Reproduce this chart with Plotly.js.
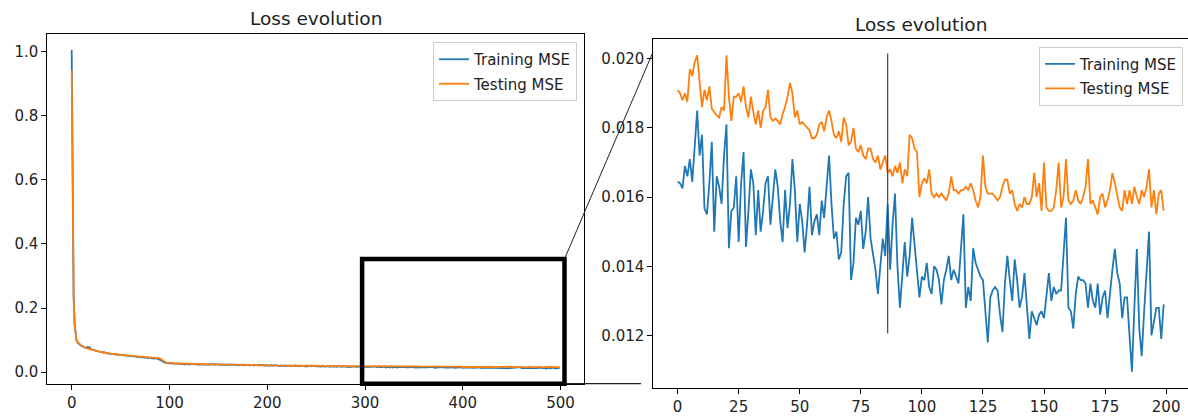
<!DOCTYPE html>
<html>
<head>
<meta charset="utf-8">
<script src="https://cdn.plot.ly/plotly-3.0.1.min.js"></script>
<style>html,body{margin:0;padding:0;background:#fff;}#chart{width:1188px;height:416px;}</style>
</head>
<body>
<div id="chart"></div>
<script>
// ---- Data ----
// Epochs 0-299 (left plot only)
const trainEarly = [
1.005,0.430,0.235,0.150,0.112,0.098,0.093,0.089,0.087,0.084,
0.082,0.080,0.079,0.077,0.076,0.075,0.078,0.073,0.080,0.072,
0.071,0.070,0.069,0.070,0.067,0.066,0.067,0.065,0.064,0.063,
0.063,0.062,0.061,0.062,0.060,0.060,0.059,0.060,0.058,0.058,
0.057,0.058,0.056,0.057,0.056,0.055,0.056,0.055,0.054,0.055,
0.054,0.053,0.054,0.053,0.052,0.053,0.052,0.051,0.052,0.051,
0.050,0.051,0.050,0.049,0.050,0.049,0.048,0.049,0.048,0.047,
0.048,0.047,0.046,0.047,0.046,0.045,0.046,0.045,0.044,0.045,
0.044,0.045,0.043,0.044,0.043,0.042,0.044,0.043,0.042,0.041,
0.040,0.039,0.036,0.033,0.031,0.030,0.029,0.029,0.028,0.028,
0.028,0.027,0.028,0.027,0.026,0.027,0.026,0.027,0.026,0.025,
0.026,0.027,0.025,0.026,0.025,0.026,0.024,0.026,0.025,0.026,
0.025,0.024,0.026,0.025,0.024,0.025,0.026,0.024,0.025,0.024,
0.025,0.023,0.025,0.024,0.025,0.024,0.023,0.025,0.024,0.024,
0.023,0.025,0.024,0.023,0.024,0.025,0.023,0.024,0.023,0.024,
0.024,0.023,0.024,0.022,0.024,0.023,0.024,0.023,0.022,0.024,
0.023,0.022,0.024,0.023,0.022,0.023,0.024,0.022,0.023,0.022,
0.023,0.022,0.023,0.022,0.024,0.022,0.023,0.021,0.023,0.022,
0.022,0.023,0.021,0.022,0.023,0.022,0.021,0.023,0.022,0.021,
0.022,0.021,0.023,0.022,0.021,0.022,0.021,0.022,0.020,0.022,
0.021,0.022,0.020,0.021,0.022,0.020,0.021,0.020,0.022,0.021,
0.020,0.021,0.020,0.019,0.021,0.020,0.021,0.019,0.020,0.021,
0.020,0.019,0.020,0.021,0.019,0.020,0.019,0.020,0.019,0.021,
0.019,0.020,0.019,0.018,0.020,0.019,0.020,0.019,0.018,0.019,
0.020,0.019,0.018,0.019,0.020,0.018,0.019,0.018,0.019,0.020,
0.018,0.019,0.018,0.019,0.018,0.017,0.019,0.018,0.019,0.018,
0.017,0.018,0.019,0.018,0.017,0.018,0.019,0.017,0.018,0.017,
0.018,0.017,0.018,0.019,0.017,0.018,0.017,0.018,0.017,0.018,
0.017,0.018,0.016,0.017,0.018,0.017,0.016,0.018,0.017,0.016,
0.017,0.018,0.016,0.017,0.016,0.017,0.018,0.016,0.017,0.016
];
const testEarly = [
0.940,0.410,0.225,0.145,0.110,0.099,0.094,0.090,0.087,0.085,
0.083,0.081,0.079,0.078,0.077,0.075,0.074,0.073,0.072,0.071,
0.070,0.069,0.068,0.068,0.067,0.066,0.065,0.065,0.064,0.063,
0.063,0.062,0.062,0.061,0.060,0.060,0.059,0.059,0.058,0.058,
0.058,0.057,0.057,0.056,0.056,0.056,0.055,0.055,0.055,0.054,
0.054,0.054,0.053,0.053,0.053,0.052,0.052,0.052,0.051,0.051,
0.051,0.051,0.050,0.050,0.050,0.050,0.049,0.049,0.049,0.049,
0.048,0.048,0.048,0.048,0.047,0.047,0.047,0.047,0.047,0.046,
0.046,0.046,0.046,0.046,0.046,0.045,0.045,0.045,0.045,0.044,
0.043,0.041,0.038,0.035,0.033,0.032,0.031,0.030,0.030,0.029,
0.029,0.029,0.028,0.028,0.028,0.028,0.027,0.028,0.027,0.027,
0.027,0.027,0.027,0.026,0.027,0.026,0.026,0.027,0.026,0.026,
0.026,0.026,0.026,0.025,0.026,0.026,0.025,0.025,0.026,0.025,
0.025,0.025,0.025,0.026,0.025,0.025,0.025,0.024,0.025,0.025,
0.025,0.024,0.025,0.024,0.024,0.025,0.024,0.024,0.024,0.024,
0.024,0.024,0.024,0.023,0.024,0.024,0.023,0.024,0.023,0.023,
0.024,0.023,0.023,0.023,0.024,0.023,0.023,0.023,0.022,0.023,
0.023,0.023,0.022,0.023,0.023,0.022,0.023,0.022,0.022,0.023,
0.022,0.022,0.023,0.022,0.022,0.022,0.022,0.023,0.022,0.022,
0.022,0.021,0.022,0.022,0.022,0.021,0.022,0.022,0.021,0.022,
0.022,0.021,0.021,0.022,0.021,0.021,0.021,0.022,0.021,0.021,
0.021,0.021,0.020,0.021,0.021,0.021,0.020,0.021,0.021,0.020,
0.021,0.020,0.021,0.020,0.020,0.021,0.020,0.020,0.021,0.020,
0.020,0.020,0.021,0.020,0.020,0.020,0.019,0.020,0.020,0.020,
0.020,0.019,0.020,0.020,0.019,0.020,0.020,0.019,0.020,0.019,
0.020,0.019,0.019,0.020,0.019,0.019,0.020,0.019,0.019,0.019,
0.019,0.020,0.019,0.019,0.019,0.019,0.020,0.019,0.019,0.019,
0.019,0.019,0.019,0.020,0.019,0.019,0.019,0.019,0.019,0.020,
0.019,0.019,0.019,0.019,0.019,0.020,0.019,0.019,0.019,0.019,
0.019,0.019,0.020,0.019,0.019,0.019,0.019,0.020,0.019,0.019
];
// Epochs 300-499 (shown in the zoomed right plot as 0-199)
const trainZoom = [
0.01644,0.0164,0.01625,0.0169,0.0166,0.0171,0.01644,0.0174,0.0185,0.0172,
0.0178,0.01567,0.0155,0.0164,0.0176,0.0150,0.0166,0.0163,0.0158,0.0172,
0.0181,0.01452,0.0156,0.0157,0.0166,0.0147,0.0164,0.0173,0.01456,0.0156,
0.0168,0.0164,0.0149,0.0162,0.0150,0.0156,0.0164,0.0166,0.0152,0.0160,
0.0168,0.0163,0.0153,0.0147,0.0162,0.0151,0.0158,0.0171,0.0162,0.0147,
0.0158,0.0153,0.0144,0.0152,0.0163,0.0149,0.0153,0.0155,0.0149,0.0159,
0.0154,0.0163,0.0172,0.0158,0.0148,0.0150,0.0142,0.0144,0.0158,0.0166,
0.0167,0.0136,0.0141,0.0154,0.0152,0.0156,0.0145,0.0150,0.0160,0.0148,
0.0144,0.0139,0.0132,0.0141,0.0148,0.0143,0.0158,0.0139,0.0152,0.0161,
0.0140,0.0128,0.0137,0.0147,0.0137,0.0143,0.0154,0.0147,0.0140,0.0131,
0.0137,0.0136,0.0141,0.0134,0.0132,0.0140,0.0139,0.0136,0.0129,0.0136,
0.0139,0.0143,0.0136,0.0139,0.0137,0.0135,0.0145,0.0155,0.0128,0.0134,
0.0130,0.01452,0.0141,0.0139,0.0137,0.0136,0.0128,0.0118,0.0131,0.0133,
0.0134,0.0133,0.0126,0.0121,0.0135,0.0143,0.0136,0.0130,0.0142,0.0136,
0.0128,0.0131,0.0138,0.0128,0.0119,0.0127,0.0125,0.0123,0.0126,0.0127,
0.0125,0.0131,0.0138,0.0130,0.0134,0.0132,0.0133,0.0133,0.0145,0.0154,
0.0128,0.0127,0.0122,0.0132,0.0137,0.0136,0.0136,0.0135,0.0128,0.0135,
0.0130,0.0128,0.0135,0.0126,0.0131,0.0133,0.0125,0.0133,0.0139,0.0145,
0.0138,0.0135,0.0125,0.0131,0.0131,0.0120,0.01095,0.0128,0.0145,0.0122,
0.0114,0.0127,0.0138,0.0150,0.0120,0.0124,0.0128,0.0128,0.0119,0.0129
];
const testZoom = [
0.01909,0.0190,0.0188,0.0190,0.01875,0.0197,0.0195,0.0199,0.0201,0.0193,
0.0186,0.0191,0.0188,0.0192,0.01855,0.01846,0.01836,0.0183,0.0186,0.0185,
0.0201,0.0189,0.0182,0.0189,0.0189,0.0190,0.01875,0.0192,0.0186,0.0183,
0.0189,0.01846,0.0181,0.0185,0.0180,0.0185,0.0186,0.0191,0.0183,0.0182,
0.01827,0.0182,0.0181,0.0184,0.0186,0.0189,0.0193,0.0190,0.0183,0.0185,
0.0181,0.01817,0.0181,0.0180,0.01793,0.0177,0.0177,0.0178,0.0181,0.01817,
0.0179,0.0183,0.0185,0.0182,0.0178,0.0177,0.0179,0.0176,0.0183,0.0181,
0.0175,0.0176,0.0180,0.0174,0.0173,0.0175,0.0172,0.0171,0.0174,0.0174,
0.0171,0.0170,0.0172,0.0168,0.0170,0.0172,0.0167,0.0168,0.0166,0.0169,
0.0167,0.0170,0.0164,0.0168,0.0166,0.0178,0.0177,0.0174,0.0173,0.0160,
0.0164,0.01654,0.0164,0.0168,0.0161,0.0160,0.0161,0.0160,0.0161,0.0160,
0.0159,0.0161,0.0166,0.0162,0.0162,0.0161,0.0162,0.0162,0.0163,0.0162,
0.0164,0.0162,0.0159,0.0157,0.0160,0.0172,0.0163,0.0161,0.0161,0.0161,
0.0160,0.0159,0.0160,0.0163,0.0165,0.0165,0.0161,0.0162,0.0158,0.0156,
0.0158,0.0157,0.0160,0.0158,0.0158,0.0160,0.0167,0.0160,0.0164,0.0156,
0.0170,0.0157,0.0156,0.0156,0.0157,0.0162,0.0170,0.0157,0.0160,0.0171,
0.0159,0.0158,0.0159,0.0162,0.0159,0.0158,0.0160,0.0163,0.0171,0.0158,
0.0159,0.0157,0.0155,0.0160,0.0161,0.0157,0.0159,0.0162,0.0167,0.0164,
0.0160,0.0157,0.0156,0.0162,0.0158,0.0162,0.0158,0.0163,0.0160,0.0158,
0.0162,0.0160,0.0163,0.0168,0.0157,0.0162,0.0155,0.0161,0.0162,0.0156
];
const seriesNames = ["Training MSE", "Testing MSE"];
const chartTitle = "Loss evolution";
const leftXTicks = [0, 100, 200, 300, 400, 500];
const leftYTicks = [0.0, 0.2, 0.4, 0.6, 0.8, 1.0];
const rightXTicks = [0, 25, 50, 75, 100, 125, 150, 175, 200];
const rightYTicks = [0.012, 0.014, 0.016, 0.018, 0.020];
// zoom window drawn on the left plot (data units) and marker line on right plot
const zoomWindowX = [297, 504];
const zoomWindowY = [-0.036, 0.353];
const markerEpoch = 86;
const markerY = [0.01206, 0.02015];

const trainLoss = trainEarly.concat(trainZoom);
const testLoss = testEarly.concat(testZoom);
const epochs = trainLoss.map((_, i) => i);
const zoomEpochs = trainZoom.map((_, i) => i);

// ---- Layout geometry ----
const W = 1188, H = 416;
const blue = '#1f77b4', orange = '#ff7f0e';
const FONT = 'DejaVu Sans, Arial, sans-serif';
const xDom1 = [47.3 / W, 584 / W], yDom1 = [1 - 384 / H, 1 - 34 / H];
const xDom2 = [653.3 / W, 1], yDom2 = [1 - 387.7 / H, 1 - 39.3 / H];
const xRange1 = [-24.95, 523.95], yRange1 = [-0.037, 1.055];
const xRange2 = [-9.95, 208.95], yRange2 = [0.01049, 0.02056];

function toPaper(dom, rng, v) { return dom[0] + (v - rng[0]) / (rng[1] - rng[0]) * (dom[1] - dom[0]); }

const lw = 1.8;
const traces = [
  {x: epochs, y: trainLoss, type: 'scatter', mode: 'lines', name: seriesNames[0], line: {color: blue, width: lw}, xaxis: 'x', yaxis: 'y', legend: 'legend', legendgroup: 'a'},
  {x: epochs, y: testLoss, type: 'scatter', mode: 'lines', name: seriesNames[1], line: {color: orange, width: lw}, xaxis: 'x', yaxis: 'y', legend: 'legend', legendgroup: 'b'},
  {x: zoomEpochs, y: trainZoom, type: 'scatter', mode: 'lines', name: seriesNames[0], line: {color: blue, width: lw}, xaxis: 'x2', yaxis: 'y2', legend: 'legend2', legendgroup: 'c'},
  {x: zoomEpochs, y: testZoom, type: 'scatter', mode: 'lines', name: seriesNames[1], line: {color: orange, width: lw}, xaxis: 'x2', yaxis: 'y2', legend: 'legend2', legendgroup: 'd'}
];

const axisCommon = {
  showgrid: false, zeroline: false, showline: true, mirror: true,
  linecolor: '#000', linewidth: 1, ticks: 'outside', ticklen: 5, tickwidth: 1, tickcolor: '#000',
  tickfont: {family: FONT, size: 15, color: '#222'}, fixedrange: true
};

const legendCommon = {
  bgcolor: 'rgba(255,255,255,0.9)', bordercolor: '#cccccc', borderwidth: 1,
  font: {family: FONT, size: 15, color: '#222'}, tracegroupgap: 2,
  xanchor: 'right', yanchor: 'top'
};

// rectangle corners in paper coords
const rx0 = toPaper(xDom1, xRange1, zoomWindowX[0]);
const rx1 = toPaper(xDom1, xRange1, zoomWindowX[1]);
const ry0 = toPaper(yDom1, yRange1, zoomWindowY[0]);
const ry1 = toPaper(yDom1, yRange1, zoomWindowY[1]);

const layout = {
  width: W, height: H,
  margin: {l: 0, r: 0, t: 0, b: 0},
  paper_bgcolor: '#fff', plot_bgcolor: '#fff',
  showlegend: true,
  xaxis: Object.assign({}, axisCommon, {domain: xDom1, range: xRange1, tickvals: leftXTicks, anchor: 'y'}),
  yaxis: Object.assign({}, axisCommon, {domain: yDom1, range: yRange1, tickvals: leftYTicks, tickformat: '.1f', anchor: 'x'}),
  xaxis2: Object.assign({}, axisCommon, {domain: xDom2, range: xRange2, tickvals: rightXTicks, anchor: 'y2'}),
  yaxis2: Object.assign({}, axisCommon, {domain: yDom2, range: yRange2, tickvals: rightYTicks, tickformat: '.3f', anchor: 'x2', mirror: false}),
  legend: Object.assign({}, legendCommon, {x: 577 / W, y: 1 - 42 / H}),
  legend2: Object.assign({}, legendCommon, {x: 1183 / W, y: 1 - 46.7 / H}),
  annotations: [
    {text: chartTitle, xref: 'paper', yref: 'paper', x: (xDom1[0] + xDom1[1]) / 2, y: 1 - 19 / H, xanchor: 'center', yanchor: 'middle', showarrow: false, font: {family: FONT, size: 18.5, color: '#222'}},
    {text: chartTitle, xref: 'paper', yref: 'paper', x: (xDom2[0] + xDom2[1]) / 2, y: 1 - 24 / H, xanchor: 'center', yanchor: 'middle', showarrow: false, font: {family: FONT, size: 18.5, color: '#222'}}
  ],
  shapes: [
    {type: 'rect', xref: 'paper', yref: 'paper', x0: rx0, x1: rx1, y0: ry0, y1: ry1, line: {color: '#000', width: 4.5}, fillcolor: 'rgba(0,0,0,0)', layer: 'above'},
    {type: 'line', xref: 'paper', yref: 'paper', x0: rx1, y0: ry1, x1: 653 / W, y1: 1 - 52 / H, line: {color: '#222', width: 1}},
    {type: 'line', xref: 'paper', yref: 'paper', x0: rx1, y0: ry0, x1: 641 / W, y1: ry0, line: {color: '#222', width: 1.2}},
    {type: 'line', xref: 'x2', yref: 'y2', x0: markerEpoch, x1: markerEpoch, y0: markerY[0], y1: markerY[1], line: {color: '#444', width: 1.2}, layer: 'above'}
  ]
};

Plotly.newPlot('chart', traces, layout, {displayModeBar: false, staticPlot: true});
</script>
</body>
</html>
